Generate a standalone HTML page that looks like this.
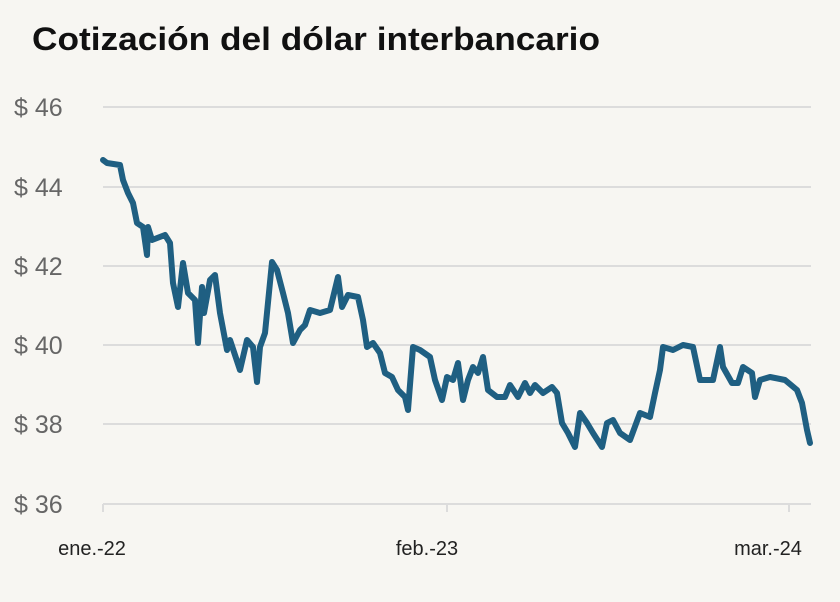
<!DOCTYPE html>
<html><head><meta charset="utf-8"><style>
html,body{margin:0;padding:0;background:#f7f6f2;}
svg{display:block}
</style></head><body>
<svg width="840" height="602" viewBox="0 0 840 602" xmlns="http://www.w3.org/2000/svg">
<rect width="840" height="602" fill="#f7f6f2"/>
<text x="32" y="50" font-family="Liberation Sans, sans-serif" font-weight="bold" font-size="32" fill="#111" textLength="568" lengthAdjust="spacingAndGlyphs">Cotización del dólar interbancario</text>
<g stroke="#dcdcdc" stroke-width="2">
<line x1="103" y1="107" x2="811" y2="107"/>
<line x1="103" y1="187" x2="811" y2="187"/>
<line x1="103" y1="266" x2="811" y2="266"/>
<line x1="103" y1="345" x2="811" y2="345"/>
<line x1="103" y1="424" x2="811" y2="424"/>
<line x1="103" y1="504" x2="811" y2="504"/>
<line x1="103" y1="504" x2="103" y2="512"/>
<line x1="447" y1="504" x2="447" y2="512"/>
<line x1="789" y1="504" x2="789" y2="512"/>
</g>
<g font-family="Liberation Sans, sans-serif" font-size="25" fill="#666">
<text x="14" y="116">$ 46</text>
<text x="14" y="196">$ 44</text>
<text x="14" y="275">$ 42</text>
<text x="14" y="354">$ 40</text>
<text x="14" y="433">$ 38</text>
<text x="14" y="513">$ 36</text>
</g>
<g font-family="Liberation Sans Narrow, Liberation Sans, sans-serif" font-size="20" fill="#222" text-anchor="middle">
<text x="92" y="555">ene.-22</text>
<text x="427" y="555">feb.-23</text>
<text x="768" y="555">mar.-24</text>
</g>
<polyline fill="none" stroke="#1f5f82" stroke-width="6" stroke-linejoin="round" stroke-linecap="round" points="
103,160 107,163 120,165 123,180 128,193 133,203 137,223 143,227 147,255 148,227 152,240 165,235 170,243 173,283 178,307 183,263 188,293 195,300 198,343 202,287 204,313 210,280 215,275 220,313 227,350 230,340 240,370 247,340 253,347 257,382 260,347 265,333 272,262 277,270 283,293 288,313 293,343 300,330 305,325 310,310 320,313 330,310 338,277 342,307 348,295 358,297 363,320 367,347 373,343 380,353 385,373 392,377 398,390 405,397 408,410 413,347 420,350
430,357 435,380 442,400 447,377 453,380 458,363 463,400 468,380 473,367 478,373 483,357 488,390 497,397 505,397 510,385 518,397 525,383 530,393 535,385 543,393 552,387 557,393 562,423 568,433 575,447 580,413 587,423 593,433 602,447 607,423 613,420 620,433 630,440 640,413 650,417 655,393 660,370 663,347 673,350 683,345 693,347 700,380 713,380 720,347 723,367 732,383 738,383 743,367 752,373 755,397 760,380 770,377 785,380 797,390 802,403 807,430 810,443"/>
</svg>
</body></html>
